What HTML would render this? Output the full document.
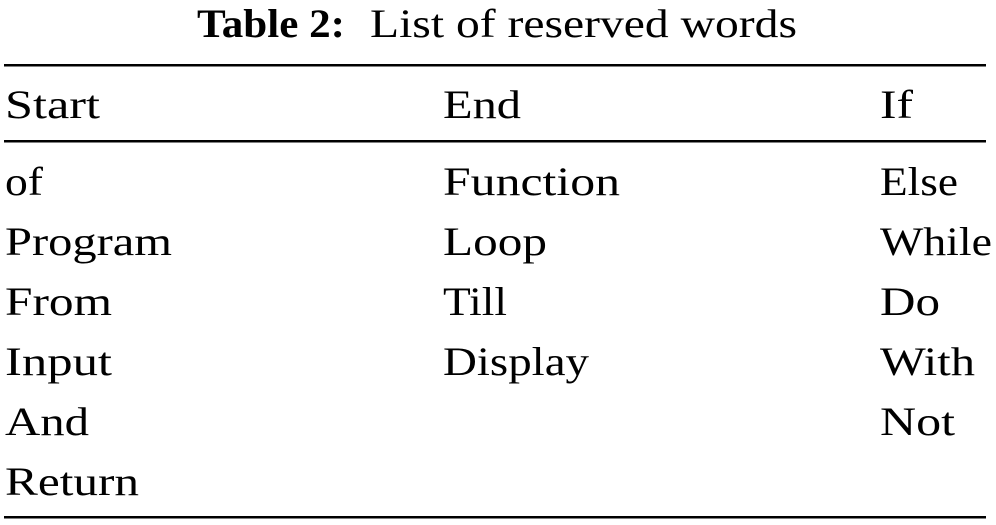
<!DOCTYPE html>
<html><head><meta charset="utf-8"><style>
html,body{margin:0;padding:0;background:#fff;}
svg{display:block;}
text{font-family:"Liberation Serif",serif;font-size:40px;fill:#000;}
</style></head><body>
<svg width="996" height="525" viewBox="0 0 996 525">
<text x="197" y="37" font-weight="bold" textLength="148" lengthAdjust="spacingAndGlyphs">Table 2:</text>
<text x="370" y="37" textLength="427" lengthAdjust="spacingAndGlyphs">List of reserved words</text>
<rect x="4" y="64" width="982" height="2.5" fill="#000"/>
<rect x="4" y="140" width="982" height="2.5" fill="#000"/>
<rect x="4" y="516" width="982" height="2.5" fill="#000"/>
<g lengthAdjust="spacingAndGlyphs">
<text x="5" y="118" textLength="95" lengthAdjust="spacingAndGlyphs">Start</text>
<text x="443" y="118" textLength="78" lengthAdjust="spacingAndGlyphs">End</text>
<text x="880" y="118" textLength="33" lengthAdjust="spacingAndGlyphs">If</text>
<text x="5" y="195" textLength="38" lengthAdjust="spacingAndGlyphs">of</text>
<text x="443" y="195" textLength="177" lengthAdjust="spacingAndGlyphs">Function</text>
<text x="880" y="195" textLength="78" lengthAdjust="spacingAndGlyphs">Else</text>
<text x="5" y="255" textLength="167" lengthAdjust="spacingAndGlyphs">Program</text>
<text x="443" y="255" textLength="104" lengthAdjust="spacingAndGlyphs">Loop</text>
<text x="880" y="255" textLength="112" lengthAdjust="spacingAndGlyphs">While</text>
<text x="5" y="315" textLength="107" lengthAdjust="spacingAndGlyphs">From</text>
<text x="443" y="315" textLength="64" lengthAdjust="spacingAndGlyphs">Till</text>
<text x="880" y="315" textLength="60" lengthAdjust="spacingAndGlyphs">Do</text>
<text x="5" y="375" textLength="107" lengthAdjust="spacingAndGlyphs">Input</text>
<text x="443" y="375" textLength="146" lengthAdjust="spacingAndGlyphs">Display</text>
<text x="880" y="375" textLength="95" lengthAdjust="spacingAndGlyphs">With</text>
<text x="5" y="435" textLength="84" lengthAdjust="spacingAndGlyphs">And</text>
<text x="880" y="435" textLength="75" lengthAdjust="spacingAndGlyphs">Not</text>
<text x="5" y="495" textLength="134" lengthAdjust="spacingAndGlyphs">Return</text>
</g>
</svg>
</body></html>
